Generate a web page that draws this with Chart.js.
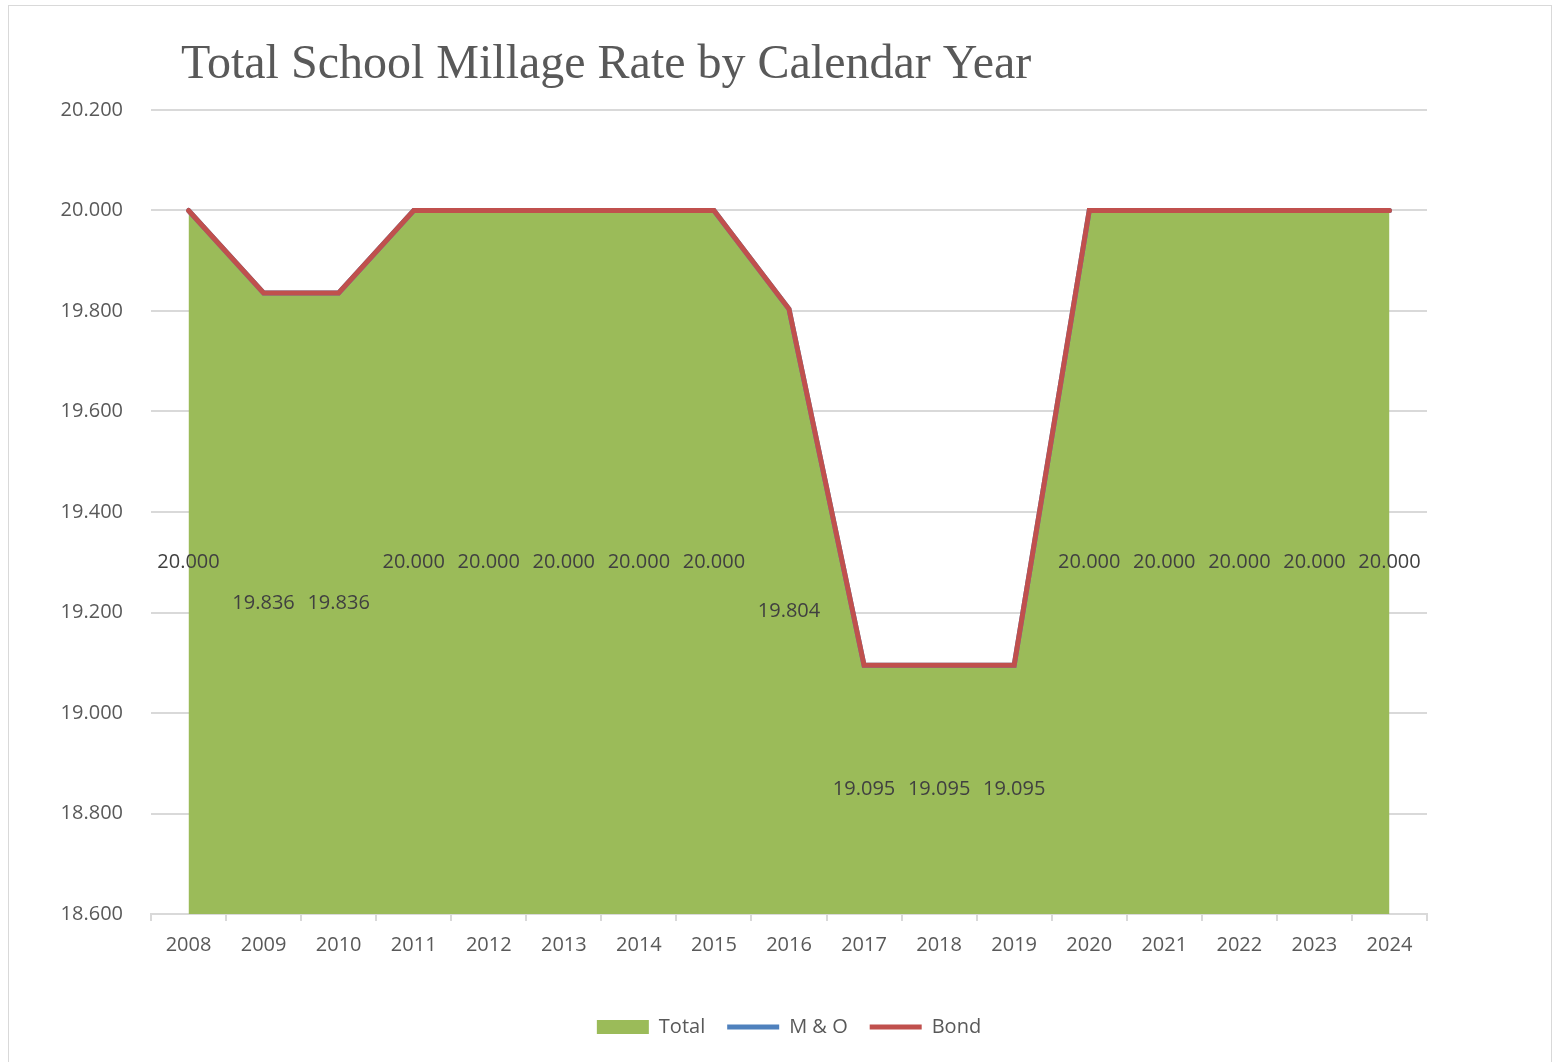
<!DOCTYPE html>
<html lang="en">
<head>
    <meta charset="UTF-8">
    <title>Total School Millage Rate by Calendar Year</title>
    <script src="https://cdn.jsdelivr.net/npm/chart.js"></script>
    <style>
        body {
            margin: 0;
            padding: 0;
            background: white;
            overflow: hidden;
        }

        .frame {
            position: absolute;
            left: 8px;
            top: 5px;
            width: 1542px;
            height: 1070px;
            border: 1px solid #d9d9d9;
        }

        canvas {
            position: absolute;
            left: 0;
            top: 0;
        }
    </style>
</head>
<body>
    <div class="frame"></div>
    <canvas id="millageChart" width="1558" height="1062"></canvas>

    <script>
        const years = ['2008', '2009', '2010', '2011', '2012', '2013', '2014', '2015', '2016',
            '2017', '2018', '2019', '2020', '2021', '2022', '2023', '2024'];
        const totalRate = [20.000, 19.836, 19.836, 20.000, 20.000, 20.000, 20.000, 20.000, 19.804,
            19.095, 19.095, 19.095, 20.000, 20.000, 20.000, 20.000, 20.000];
        const moRate = [20.000, 19.836, 19.836, 20.000, 20.000, 20.000, 20.000, 20.000, 19.804,
            19.095, 19.095, 19.095, 20.000, 20.000, 20.000, 20.000, 20.000];
        const bondRate = [20.000, 19.836, 19.836, 20.000, 20.000, 20.000, 20.000, 20.000, 19.804,
            19.095, 19.095, 19.095, 20.000, 20.000, 20.000, 20.000, 20.000];
        const yMin = 18.6;
        const yMax = 20.2;

        const font = "'Open Sans', sans-serif";

        // title + area labels drawn by hand (no datalabels plugin offline)
        const extras = {
            id: 'extras',
            afterDatasetsDraw(chart) {
                const ctx = chart.ctx;
                const x = chart.scales.x;
                const y = chart.scales.y;
                ctx.save();
                ctx.font = `20px ${font}`;
                ctx.fillStyle = '#404040';
                ctx.textAlign = 'center';
                ctx.textBaseline = 'middle';
                totalRate.forEach((v, i) => {
                    const py = y.getPixelForValue((v + yMin) / 2);
                    ctx.fillText(v.toFixed(3), x.getPixelForValue(i), py);
                });
                ctx.restore();
            },
            afterDraw(chart) {
                const ctx = chart.ctx;
                ctx.save();
                ctx.font = `48px 'Liberation Serif', serif`;
                ctx.fillStyle = '#595959';
                ctx.textBaseline = 'alphabetic';
                ctx.fillText('Total School Millage Rate by Calendar Year', 181, 78);
                ctx.restore();
            }
        };

        const ctx = document.getElementById('millageChart').getContext('2d');
        new Chart(ctx, {
            type: 'line',
            data: {
                labels: years,
                datasets: [{
                    label: 'Total',
                    data: totalRate,
                    backgroundColor: '#9bbb59',
                    borderColor: '#9bbb59',
                    borderWidth: 0,
                    fill: 'start',
                    pointRadius: 0,
                    pointStyle: 'rect',
                    order: 3,
                }, {
                    label: 'M & O',
                    data: moRate,
                    borderColor: '#4f81bd',
                    backgroundColor: '#4f81bd',
                    borderWidth: 5,
                    borderCapStyle: 'round',
                    fill: false,
                    pointRadius: 0,
                    pointStyle: 'line',
                    order: 2,
                }, {
                    label: 'Bond',
                    data: bondRate,
                    borderColor: '#c0504d',
                    backgroundColor: '#c0504d',
                    borderWidth: 5,
                    borderCapStyle: 'round',
                    fill: false,
                    pointRadius: 0,
                    pointStyle: 'line',
                    order: 1,
                }],
            },
            options: {
                responsive: false,
                animation: false,
                layout: {
                    // left/right asymmetry keeps the legend centred under the plot
                    padding: { left: 20, right: 0, top: 110, bottom: 15 }
                },
                plugins: {
                    tooltip: { enabled: false },
                    legend: {
                        position: 'bottom',
                        labels: {
                            usePointStyle: true,
                            pointStyleWidth: 52,
                            boxHeight: 14,
                            padding: 22,
                            color: '#595959',
                            font: { family: font, size: 20 },
                            sort: (a, b) => a.datasetIndex - b.datasetIndex,
                        },
                    },
                },
                scales: {
                    x: {
                        offset: true,
                        grid: {
                            offset: true,
                            drawOnChartArea: false,
                            tickLength: 7,
                            color: '#d9d9d9',
                            lineWidth: 2,
                        },
                        border: { display: true, color: '#d9d9d9', width: 2 },
                        ticks: {
                            padding: 12,
                            color: '#595959',
                            font: { family: font, size: 20 },
                            maxRotation: 0,
                        },
                        afterFit(scale) { scale.height = 81; },
                    },
                    y: {
                        min: yMin,
                        max: yMax,
                        ticks: {
                            stepSize: 0.2,
                            padding: 28,
                            color: '#595959',
                            font: { family: font, size: 20 },
                            callback: (v) => Number(v).toFixed(3),
                        },
                        grid: {
                            drawTicks: false,
                            color: '#d9d9d9',
                            lineWidth: 2,
                        },
                        border: { display: false },
                        afterFit(scale) { scale.width = 131; },
                    },
                    // empty spacer on the right
                    yRight: {
                        position: 'right',
                        min: yMin,
                        max: yMax,
                        ticks: { display: false },
                        grid: { drawOnChartArea: false, drawTicks: false },
                        border: { display: false },
                        afterFit(scale) { scale.width = 131; },
                    },
                },
            },
            plugins: [extras],
        });
    </script>
</body>
</html>
